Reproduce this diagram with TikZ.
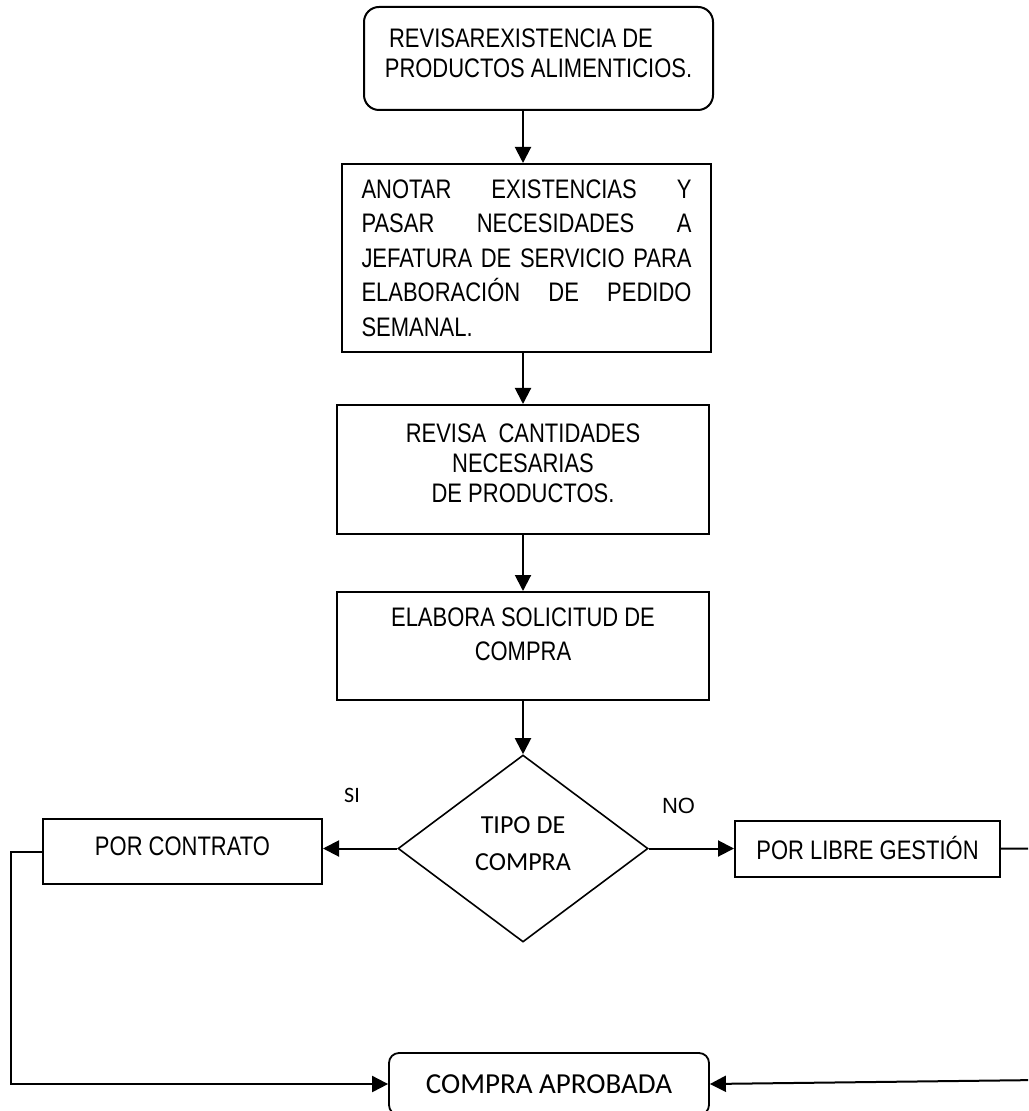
\documentclass[tikz,border=0pt]{standalone}
\usepackage{fontspec}
\setmainfont{Liberation Sans}
\newfontfamily\narrowfont[FakeStretch=0.82]{Liberation Sans}
\newfontfamily\calfont{Carlito}
\usetikzlibrary{shapes.geometric, arrows.meta}

\newcommand{\fullline}[1]{\leavevmode\hbox to \hsize{#1}}

\tikzstyle{startstop} = [rectangle, rounded corners=7.5pt, minimum width=174.5pt, minimum height=51.5pt, text centered, align=center, draw=black, line width=1pt, font=\narrowfont\fontsize{13.4}{15}\selectfont]
\tikzstyle{process} = [rectangle, minimum width=186pt, text centered, align=center, draw=black, line width=1pt, font=\narrowfont\fontsize{13.4}{15}\selectfont]
\tikzstyle{decision} = [diamond, minimum width=125pt, minimum height=93.5pt, inner sep=0pt, align=center, draw=black, line width=0.8pt, font=\calfont\fontsize{13}{18.5}\selectfont]
\tikzstyle{choice} = [rectangle, text centered, draw=black, line width=1pt, font=\narrowfont\fontsize{13.4}{15}\selectfont]
\tikzstyle{endbox} = [rectangle, rounded corners=5pt, minimum width=160pt, minimum height=31pt, text centered, draw=black, line width=0.9pt, font=\calfont\fontsize{14.5}{17}\selectfont]
\tikzstyle{arrow} = [line width=1pt, -{Triangle[length=8pt,width=8pt]}]

\begin{document}
\begin{tikzpicture}[x=0.5pt, y=-0.5pt]
\useasboundingbox (0,0) rectangle (1028,1111);
\clip (0,0) rectangle (1028,1111);

\node (revisar) [startstop] at (538.5,58.5) {REVISAREXISTENCIA DE\hspace*{17.5pt}\\PRODUCTOS ALIMENTICIOS.\rule[-5.5pt]{0pt}{5.5pt}};
\node (anotar) [process, below of=revisar, node distance=99.75pt, xshift=-6pt, minimum width=184.5pt, minimum height=94pt, text width=165pt, inner xsep=9.75pt, align=left, font=\narrowfont\fontsize{13.4}{17.25}\selectfont] {\fullline{ANOTAR\hfill EXISTENCIAS\hfill Y}\\\fullline{PASAR\hfill NECESIDADES\hfill A}\\\fullline{JEFATURA\hfill DE\hfill SERVICIO\hfill PARA}\\\fullline{ELABORACIÓN\hfill DE\hfill PEDIDO}\\SEMANAL.};
\node (cantidades) [process, below of=anotar, node distance=105.75pt, xshift=-1.75pt, minimum height=64.5pt] {REVISA\ \ CANTIDADES\\NECESARIAS\\DE PRODUCTOS.\rule[-6pt]{0pt}{6pt}};
\node (solicitud) [process, below of=cantidades, node distance=88.25pt, minimum height=54pt, font=\narrowfont\fontsize{13.4}{17}\selectfont] {ELABORA SOLICITUD DE\\COMPRA\rule[-11.5pt]{0pt}{11.5pt}};
\node (tipo) [decision, below of=solicitud, node distance=101.25pt] {TIPO DE\\COMPRA\rule[-5pt]{0pt}{5pt}};
\node (contrato) [choice, left of=tipo, node distance=170.25pt, yshift=-1.5pt, minimum width=139.5pt, minimum height=32.5pt] {POR CONTRATO\rule[-5pt]{0pt}{5pt}};
\node (libre) [choice, right of=tipo, node distance=172.25pt, minimum width=132.5pt, minimum height=28pt] {POR LIBRE GESTIÓN};
\node (aprobada) [endbox, below of=tipo, node distance=117.75pt, xshift=13pt] {COMPRA APROBADA};

\node (si) [font=\calfont\fontsize{11}{13}\selectfont] at (352,795) {SI};
\node (no) [font=\fontsize{11}{13}\selectfont] at (678.5,806) {NO};

\coordinate (lc) at (11,1084);
\coordinate (rc1) at (1040,849);
\coordinate (rc2) at (1040,1080);

\draw [arrow] (revisar.south -| tipo.north) -- (anotar.north -| tipo.north);
\draw [arrow] (anotar.south -| tipo.north) -- (cantidades.north -| tipo.north);
\draw [arrow] (cantidades.south -| tipo.north) -- (solicitud.north -| tipo.north);
\draw [arrow] (solicitud.south -| tipo.north) -- (tipo.north);
\draw [arrow] (tipo.west) -- (tipo.west -| contrato.east);
\draw [arrow] (tipo.east) -- (tipo.east -| libre.west);
\draw [arrow] (contrato.west) -| (lc) -- (aprobada.west);
\draw [arrow] (libre.east) -- (libre.east -| rc1) -- (rc2) -- (aprobada.east);

\end{tikzpicture}
\end{document}
